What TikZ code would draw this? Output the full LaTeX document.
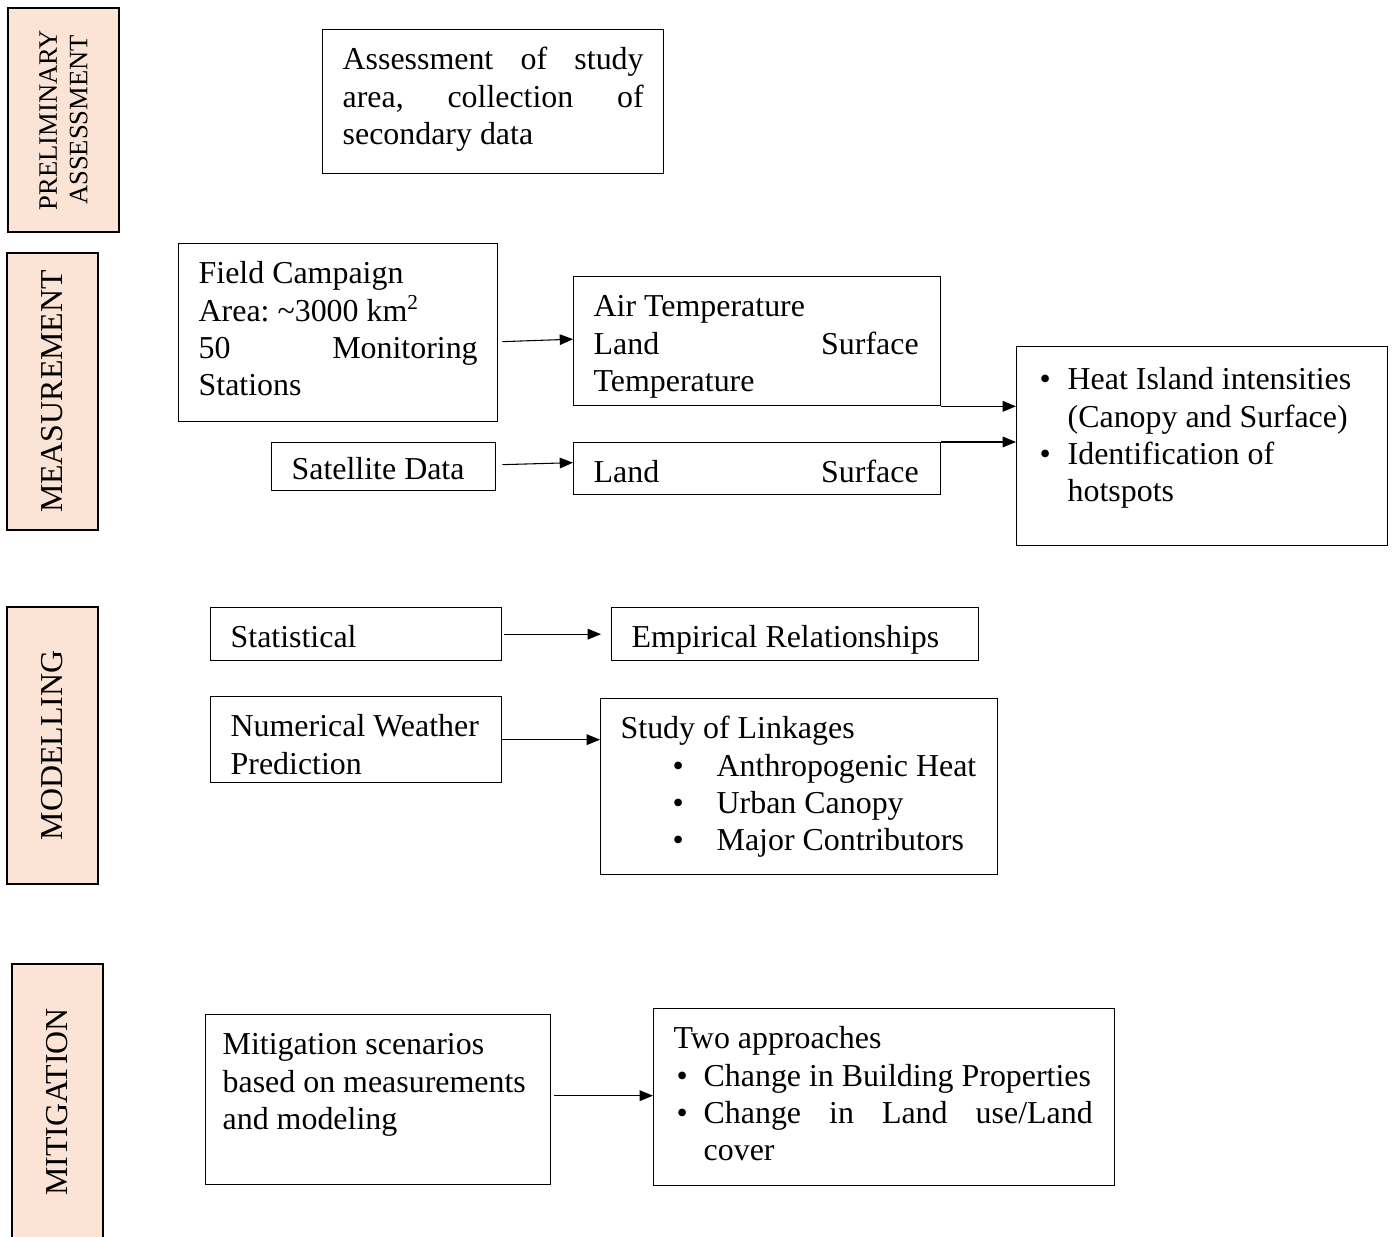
\documentclass[tikz,border=0pt]{standalone}
\usepackage{fontspec}
\setmainfont{Liberation Serif}
\usetikzlibrary{arrows.meta,calc}

\newlength\px
\setlength\px{0.376pt}
\definecolor{peach}{HTML}{FBE4D5}
\newcommand\body{\fontsize{12}{14.06}\selectfont\frenchspacing\hyphenpenalty=10000\exhyphenpenalty=10000}
\newcommand\jline[2]{\makebox[#1\px][s]{#2}}
\newcommand\bul[1]{\makebox[#1\px][l]{\textbullet}}

\tikzset{
  box/.style={draw, line width=0.5pt, anchor=north west, align=left, inner xsep=20\px, inner ysep=0pt, text height=40\px, font=\body,
    execute at begin node={\spaceskip=0pt\xspaceskip=0pt}},
  side/.style={draw, line width=0.5pt, fill=peach, rotate=90, align=center, inner sep=0pt},
  arr/.style={-{Triangle[length=5pt,width=4pt]}, line width=0.4pt},
}

\begin{document}
\begin{tikzpicture}[x=\px, y=-\px]
    \useasboundingbox (0,0) rectangle (1395,1237);

    % stage labels on the left
    \node[side, minimum width=224\px, minimum height=111\px, font=\fontsize{10}{11.5}\selectfont] (prelim) at (63.5,120) {PRELIMINARY\\ASSESSMENT};
    \node[side, minimum width=277\px, minimum height=91\px, font=\body] (meas) at (52.5,391.5) {MEASUREMENT};
    \node[side, minimum width=277\px, minimum height=91\px, font=\body] (model) at (52.5,745.5) {MODELLING};
    \node[side, minimum width=276\px, minimum height=91\px, font=\body] (mitg) at (57.5,1102) {MITIGATION};

    % preliminary assessment
    \node[box, text width=301\px, text depth=104\px] (assess) at (322,29)
        {\jline{301}{Assessment of study}\\\jline{301}{area, collection of}\\secondary data};

    % measurement
    \node[box, text width=279\px, text depth=138\px] (field) at (178,243)
        {Field Campaign\\Area: \textasciitilde3000 km\textsuperscript{2}\\\jline{279}{50 Monitoring}\\Stations};
    \node[box, text width=327\px, text depth=89\px] (airt) at (573,276)
        {Air Temperature\\\jline{325}{Land Surface}\\Temperature};
    \node[box, text width=184\px, text height=37\px, text depth=11\px] (sat) at (271,442)
        {Satellite Data};
    \node[box, text width=327\px, text depth=12\px] (lst) at (573,442)
        {\jline{325}{Land Surface}};
    \node[box, text width=325\px, inner xsep=23\px, text height=43\px, text depth=156\px] (hi) at (1016,346)
        {\bul{28}Heat Island intensities\\\hspace*{28\px}(Canopy and Surface)\\\bul{28}Identification of\\\hspace*{28\px}hotspots};

    % modelling
    \node[box, text width=251\px, text depth=13\px] (stat) at (210,607)
        {Statistical};
    \node[box, text width=327\px, text depth=13\px] (emp) at (611,607)
        {Empirical Relationships};
    \node[box, text width=251\px, text depth=46\px] (nwp) at (210,696)
        {Numerical Weather\\Prediction};
    \node[box, text width=357\px, text depth=136\px] (link) at (600,698)
        {Study of Linkages\\
         \hspace*{52\px}\bul{44}Anthropogenic Heat\\
         \hspace*{52\px}\bul{44}Urban Canopy\\
         \hspace*{52\px}\bul{44}Major Contributors};

    % mitigation
    \node[box, text width=311\px, inner xsep=17\px, text depth=130\px] (mitig) at (205,1014)
        {Mitigation scenarios\\based on measurements\\and modeling};
    \node[box, text width=421\px, text depth=137\px] (two) at (653,1008)
        {Two approaches\\\hspace*{3\px}\bul{27}Change in Building Properties\\\jline{419}{\hspace*{3\px}\bul{27}Change in Land use/Land}\\\hspace*{30\px}cover};

    % connectors
    \draw[arr] ($(field.east)+(4,9)$) -- ($(airt.west)+(0,-2)$);
    \draw[arr] ($(sat.east)+(6,-2)$) -- ($(lst.west)+(0,-6)$);
    \draw[arr] (airt.south east) -- (airt.south east -| hi.west);
    \draw[arr] (lst.north east) -- (lst.north east -| hi.west);
    \draw[arr] ($(stat.east)+(2,0)$) -- ($(emp.west)+(-10,0)$);
    \draw[arr] (nwp.east) -- (nwp.east -| link.west);
    \draw[arr] ($(mitig.east)+(3,-4)$) -- ($(mitig.east -| two.west)+(0,-4)$);
\end{tikzpicture}
\end{document}
